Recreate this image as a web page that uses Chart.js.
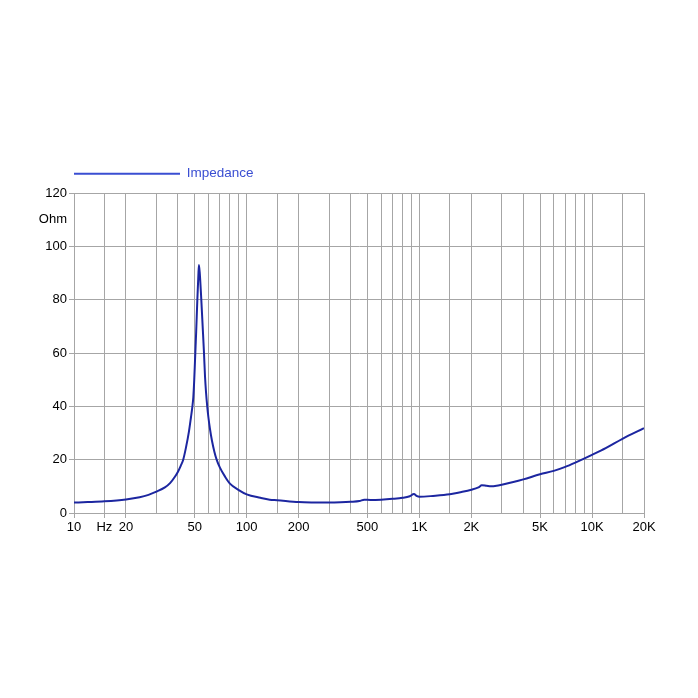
<!DOCTYPE html>
<html>
<head>
<meta charset="utf-8">
<script src="https://cdn.jsdelivr.net/npm/chart.js@4/dist/chart.umd.min.js"></script>
<style>
  html, body { margin: 0; padding: 0; background: #fff; }
  #wrap { width: 698px; height: 698px; }
</style>
</head>
<body>
<div id="wrap"><canvas id="c" width="698" height="698"></canvas></div>
<script>
// impedance curve (Hz / Ohm)
const freqs = [10, 12, 15, 20, 24, 27, 30, 33.6, 36, 38.4, 40, 41.5, 42.9, 44.5, 46.3, 47.6, 48.4, 49.1, 49.7, 50.2,
  50.6, 51, 51.8, 52.5, 52.9, 53.5, 54.6, 55.6, 56.6, 57.4, 58.2, 59.1, 60, 61.3, 63, 65, 67, 70, 75, 80, 90, 100,
  120, 136, 150, 200, 250, 300, 350, 400, 450, 480, 520, 600, 700, 800, 880, 930, 970, 1000, 1200, 1500, 1700,
  2000, 2200, 2300, 2450, 2600, 2800, 3000, 3500, 4000, 5000, 6000, 7000, 8000, 10000, 12000, 15000, 20000];
const ohms = [3.9, 4.1, 4.4, 5.1, 5.9, 6.8, 8.0, 9.6, 11.2, 13.6, 15.5, 17.7, 20, 24.5, 30.5, 36, 39.5, 43.5, 50, 57,
  62.5, 68, 80, 89, 93, 90, 80, 70, 60, 51, 45, 40, 36, 31.5, 27, 23, 20, 17, 13.6, 11, 8.6, 7.0,
  5.7, 5.0, 4.8, 4.1, 3.95, 3.9, 4.0, 4.2, 4.5, 5.0, 4.9, 5.0, 5.3, 5.7, 6.3, 7.1, 6.3, 6.1, 6.4, 7.0, 7.7,
  8.7, 9.6, 10.4, 10.2, 10.0, 10.2, 10.6, 11.6, 12.6, 14.5, 15.8, 17.3, 18.9, 21.8, 24.3, 27.8, 31.8];

// grid positions on the frequency axis and the ones that carry a label
const xTicks = [10, 15, 20, 30, 40, 50, 60, 70, 80, 90, 100, 150, 200, 300, 400, 500, 600, 700, 800, 900,
  1000, 1500, 2000, 3000, 4000, 5000, 6000, 7000, 8000, 9000, 10000, 15000, 20000];
const xLabels = { 10: '10', 15: 'Hz', 20: '20', 50: '50', 100: '100', 200: '200', 500: '500',
  1000: '1K', 2000: '2K', 5000: '5K', 10000: '10K', 20000: '20K' };
const yLabels = { 0: '0', 20: '20', 40: '40', 60: '60', 80: '80', 100: '100', 110: 'Ohm', 120: '120' };

const GRID = '#a6a6a6';
const LINE = '#1c26a0';
const LEGEND = '#3a4ed2';
const FONT = { family: "'Liberation Sans', Arial, sans-serif", size: 13 };

new Chart(document.getElementById('c'), {
  type: 'line',
  data: {
    datasets: [{
      label: 'Impedance',
      data: freqs.map((f, i) => ({ x: f, y: ohms[i] })),
      borderColor: LINE,
      backgroundColor: LINE,
      borderWidth: 2,
      pointRadius: 0,
      cubicInterpolationMode: 'monotone',
    }]
  },
  options: {
    responsive: false,
    animation: false,
    // legend padding (64) + left padding (10) puts the legend line at the plot's left edge
    layout: { padding: { left: 10, right: 54, top: 103, bottom: 0 } },
    plugins: {
      legend: {
        position: 'top',
        align: 'start',
        labels: {
          font: { family: FONT.family, size: 13.5 },
          color: LEGEND,
          boxWidth: 106,
          boxHeight: 2,
          padding: 64,
          generateLabels: () => [{
            text: 'Impedance',
            fillStyle: LEGEND,
            strokeStyle: LEGEND,
            fontColor: LEGEND,
            lineWidth: 0,
            datasetIndex: 0,
          }]
        }
      },
      // empty spacer between legend and plot
      subtitle: {
        display: true,
        text: '',
        weight: 500,
        font: { size: 1, lineHeight: 1 },
        padding: { top: 0, bottom: 1.5 },
      },
      tooltip: { enabled: false }
    },
    scales: {
      x: {
        type: 'logarithmic',
        min: 10,
        max: 20000,
        afterBuildTicks: (scale) => { scale.ticks = xTicks.map(v => ({ value: v })); },
        afterFit: (scale) => { scale.height = 185; },
        ticks: {
          autoSkip: false,
          maxRotation: 0,
          padding: 2,
          color: '#000',
          font: FONT,
          callback: (v) => xLabels[v] || '',
        },
        grid: {
          color: GRID,
          lineWidth: 1,
          tickLength: 5,
          tickColor: (ctx) => (xLabels[ctx.tick && ctx.tick.value] ? GRID : 'rgba(0,0,0,0)'),
        },
        border: { color: GRID },
      },
      y: {
        min: 0,
        max: 120,
        afterFit: (scale) => { scale.width = 64; },
        ticks: {
          stepSize: 10,
          autoSkip: false,
          padding: 2,
          color: '#000',
          font: FONT,
          callback: (v) => (yLabels[v] !== undefined ? yLabels[v] : ''),
        },
        grid: {
          color: (ctx) => (ctx.tick && ctx.tick.value % 20 === 0 ? GRID : 'rgba(0,0,0,0)'),
          lineWidth: 1,
          tickLength: 5,
        },
        border: { color: GRID },
      }
    }
  }
});
</script>
</body>
</html>
